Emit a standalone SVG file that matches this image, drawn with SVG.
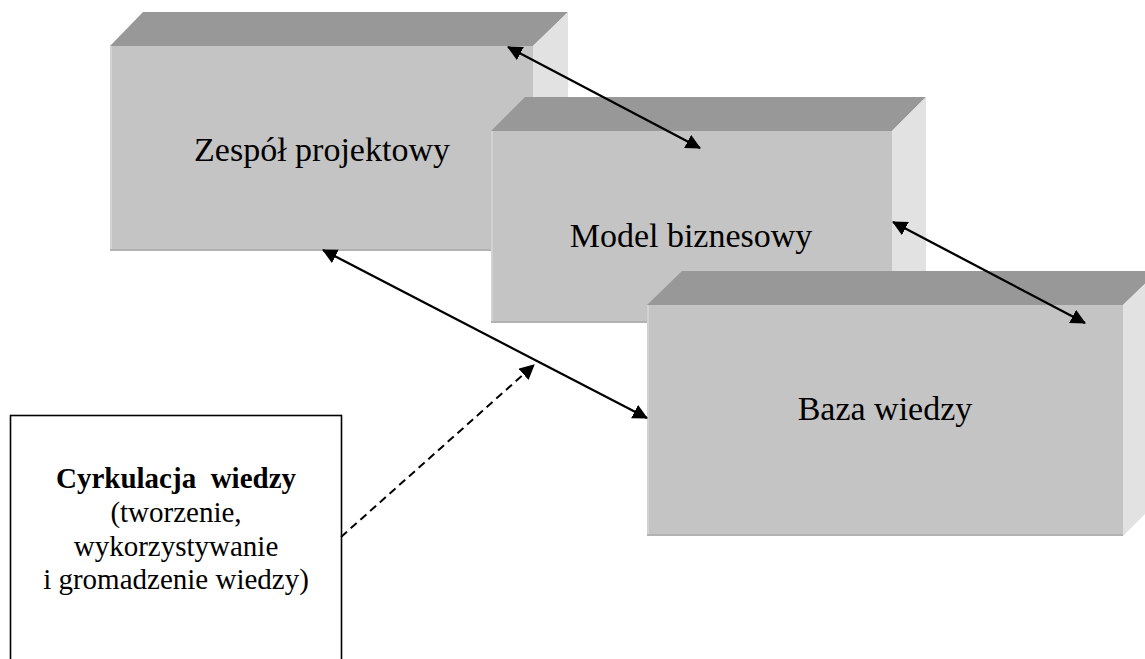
<svg xmlns="http://www.w3.org/2000/svg" width="1145" height="659" viewBox="0 0 1145 659">
  <style>
    .top { fill: #989898; }
    .front { fill: #c4c4c4; }
    .side { fill: #e2e2e2; }
    .edge-b { stroke: #b2b2b2; stroke-width: 2; fill: none; }
    .edge-l { stroke: #d2d2d2; stroke-width: 2; fill: none; }
    .label { font-family: "Liberation Serif", "Times New Roman", serif; font-size: 34px; fill: #000; text-anchor: middle; }
    .note { font-family: "Liberation Serif", "Times New Roman", serif; font-size: 29px; fill: #000; text-anchor: middle; }
    .link { stroke: #000; stroke-width: 2.3; fill: none; }
    .dashed { stroke: #000; stroke-width: 2; fill: none; stroke-dasharray: 8 5; }
  </style>
  <defs>
    <marker id="head" markerUnits="userSpaceOnUse" markerWidth="16" markerHeight="16" refX="14" refY="7.5" orient="auto-start-reverse">
      <path d="M0,0 L15,7.5 L0,15 z" fill="#000"/>
    </marker>
  </defs>

  <rect width="1145" height="659" fill="#fff"/>

  <!-- block: project team -->
  <g id="node-zespol">
    <polygon class="top" points="110,46 143,12 568,12 533,46"/>
    <polygon class="side" points="533,46 568,12 568,217 533,251"/>
    <rect class="front" x="110" y="46" width="423" height="205"/>
    <path class="edge-l" d="M111,46 V251"/>
    <path class="edge-b" d="M110,250 H533"/>
    <text class="label" x="322" y="161">Zespół projektowy</text>
  </g>

  <!-- block: business model -->
  <g id="node-model">
    <polygon class="top" points="491,131 525,97 926,97 892,131"/>
    <polygon class="side" points="892,131 926,97 926,289 892,323"/>
    <rect class="front" x="491" y="131" width="401" height="192"/>
    <path class="edge-l" d="M492,131 V323"/>
    <path class="edge-b" d="M491,322 H892"/>
    <text class="label" x="691" y="247">Model biznesowy</text>
  </g>

  <!-- block: knowledge base -->
  <g id="node-baza">
    <polygon class="top" points="647,305 682,271 1158,271 1123,305"/>
    <polygon class="side" points="1123,305 1158,271 1158,501 1123,536"/>
    <rect class="front" x="647" y="305" width="476" height="231"/>
    <path class="edge-l" d="M648,305 V536"/>
    <path class="edge-b" d="M647,535 H1123"/>
    <text class="label" x="885" y="420">Baza wiedzy</text>
  </g>

  <!-- note box -->
  <g id="node-cyrkulacja">
    <rect x="10.5" y="415.5" width="331" height="260" fill="#fff" stroke="#000" stroke-width="1.6"/>
    <text class="note" x="176" y="488" font-weight="bold" xml:space="preserve">Cyrkulacja  wiedzy</text>
    <text class="note" x="176" y="522">(tworzenie,</text>
    <text class="note" x="176" y="556">wykorzystywanie</text>
    <text class="note" x="176" y="589">i gromadzenie wiedzy)</text>
  </g>

  <!-- connectors -->
  <g id="connectors">
    <line class="link" x1="508" y1="47" x2="700" y2="148" marker-start="url(#head)" marker-end="url(#head)"/>
    <line class="link" x1="893" y1="222" x2="1085" y2="323" marker-start="url(#head)" marker-end="url(#head)"/>
    <line class="link" x1="323" y1="250" x2="647" y2="418" marker-start="url(#head)" marker-end="url(#head)"/>
    <line class="dashed" x1="341" y1="537" x2="534" y2="365" marker-end="url(#head)"/>
  </g>
</svg>
